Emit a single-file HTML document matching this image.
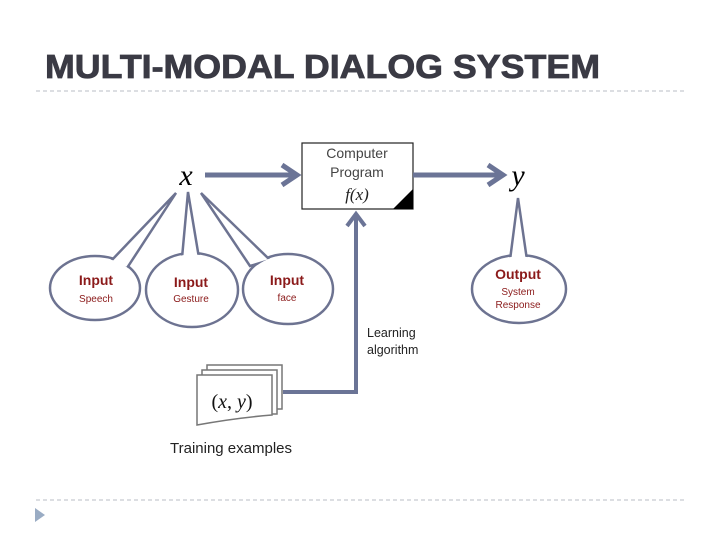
<!DOCTYPE html>
<html><head><meta charset="utf-8"><style>
body{margin:0;width:720px;height:540px;background:#fff;overflow:hidden;position:relative;font-family:"Liberation Sans",sans-serif}
</style></head><body>
<svg width="720" height="540" style="position:absolute;left:0;top:0">
<text x="45" y="78" font-family="Liberation Sans" font-weight="bold" font-size="33" fill="#3a3a44" stroke="#3a3a44" stroke-width="0.8" textLength="555" lengthAdjust="spacingAndGlyphs">MULTI-MODAL DIALOG SYSTEM</text>
<line x1="36" y1="91" x2="685" y2="91" stroke="#b8bcc4" stroke-width="1" stroke-dasharray="4,3"/>
<line x1="36" y1="500" x2="685" y2="500" stroke="#b8bcc4" stroke-width="1" stroke-dasharray="4,3"/>
<polygon points="35,508 45,515 35,522" fill="#9aacc4"/>
<g stroke="#6d7391" stroke-width="2.5" fill="#fff" stroke-linejoin="miter">
<ellipse cx="95" cy="288" rx="45" ry="32"/>
<ellipse cx="192" cy="290" rx="46" ry="37"/>
<ellipse cx="288" cy="289" rx="45" ry="35"/>
<ellipse cx="519" cy="289" rx="47" ry="34"/>
<polygon points="110,262 176,193 127,268"/>
<polygon points="182,258 188,192 199,258"/>
<polygon points="250,266 201,193 270,260"/>
<polygon points="510,260 518,198 527,260"/>
</g>
<g fill="#fff">
<ellipse cx="95" cy="288" rx="43.5" ry="30.5"/>
<ellipse cx="192" cy="290" rx="44.5" ry="35.5"/>
<ellipse cx="288" cy="289" rx="43.5" ry="33.5"/>
<ellipse cx="519" cy="289" rx="45.5" ry="32.5"/>
</g>
<g font-family="Liberation Sans" font-weight="bold" fill="#8b1a1a" text-anchor="middle">
<text x="96" y="285" font-size="14">Input</text>
<text x="96" y="302" font-size="10" font-weight="normal">Speech</text>
<text x="191" y="287" font-size="14">Input</text>
<text x="191" y="302" font-size="10" font-weight="normal">Gesture</text>
<text x="287" y="285" font-size="14">Input</text>
<text x="287" y="301" font-size="10" font-weight="normal">face</text>
<text x="518" y="279" font-size="14">Output</text>
<text x="518" y="295" font-size="10" font-weight="normal">System</text>
<text x="518" y="308" font-size="10" font-weight="normal">Response</text>
</g>
<rect x="302" y="143" width="111" height="66" fill="#fff" stroke="#222" stroke-width="1.2"/>
<polygon points="413,189 413,209 393,209" fill="#000"/>
<text x="357" y="158" text-anchor="middle" font-size="14" fill="#444" font-family="Liberation Sans">Computer</text>
<text x="357" y="177" text-anchor="middle" font-size="14" fill="#444" font-family="Liberation Sans">Program</text>
<text x="357" y="200" text-anchor="middle" font-size="17" font-style="italic" font-family="Liberation Serif" fill="#222">f(x)</text>
<text x="186" y="185" font-size="30" font-style="italic" font-family="Liberation Serif" text-anchor="middle">x</text>
<text x="518" y="185" font-size="30" font-style="italic" font-family="Liberation Serif" text-anchor="middle">y</text>
<g stroke="#6b7496" fill="none">
<line x1="205" y1="175" x2="296" y2="175" stroke-width="5"/>
<polyline points="282,165 297,175 282,185" stroke-width="5"/>
<line x1="413" y1="175" x2="502" y2="175" stroke-width="5"/>
<polyline points="488,165 503,175 488,185" stroke-width="5"/>
<polyline points="283,392 356,392 356,215" stroke-width="4"/>
<polyline points="347,226 356,214 365,226" stroke-width="4"/>
</g>
<text x="367" y="337" font-size="12.5" fill="#222" font-family="Liberation Sans">Learning</text>
<text x="367" y="354" font-size="12.5" fill="#222" font-family="Liberation Sans">algorithm</text>
<g stroke="#777" stroke-width="1.5" fill="#fff">
<rect x="207" y="365" width="75" height="44"/>
<rect x="202" y="370" width="75" height="44"/>
<path d="M197,375 H272 V415 Q235,418 197,425 Z"/>
</g>
<text x="232" y="408" text-anchor="middle" font-size="20" font-family="Liberation Serif" fill="#111"><tspan>(</tspan><tspan font-style="italic">x</tspan>, <tspan font-style="italic">y</tspan>)</text>
<text x="231" y="453" text-anchor="middle" font-size="15" fill="#222" font-family="Liberation Sans">Training examples</text>
</svg>
</body></html>
